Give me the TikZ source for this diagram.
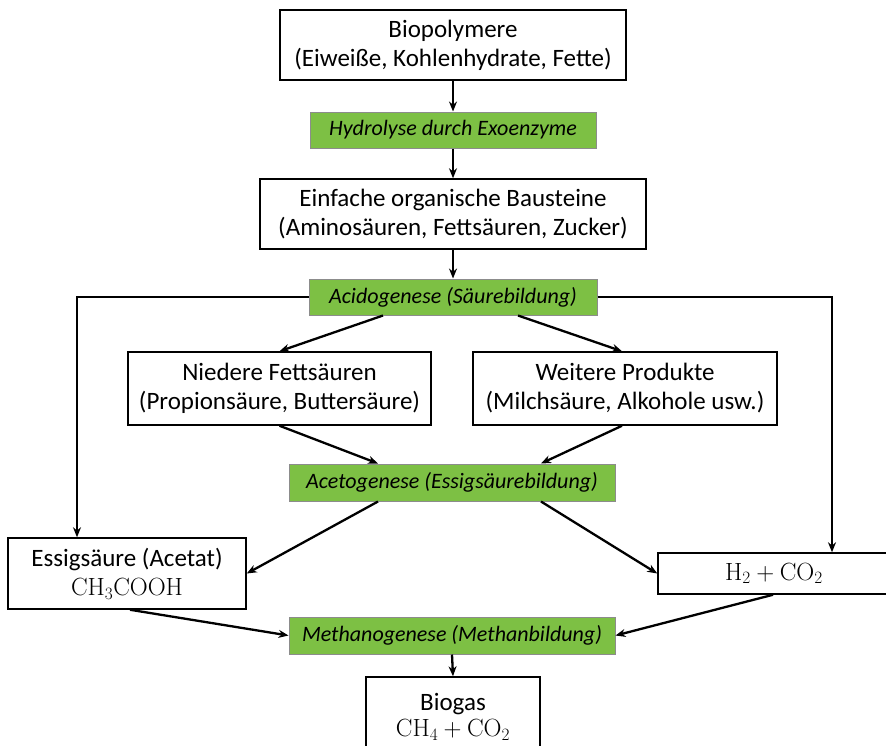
\documentclass[tikz,border=0pt]{standalone}
\usepackage[no-math]{fontspec}
\setmainfont{Carlito}
\usetikzlibrary{arrows.meta}
\definecolor{stepgreen}{RGB}{125,192,68}
\definecolor{stepedge}{RGB}{140,140,140}
\tikzset{
  box/.style={draw=black, line width=1.5pt, fill=white, align=center, inner sep=0pt, font=\fontsize{25}{29}\selectfont},
  gbox/.style={draw=stepedge, line width=1pt, fill=stepgreen, align=center, inner sep=0pt, font=\fontsize{22}{26}\selectfont\itshape},
  conn/.style={line width=2.3pt, -{Stealth[length=10pt,width=8pt]}},
}
\begin{document}
\begin{tikzpicture}[x=1pt,y=-1pt]
\useasboundingbox (0,0) rectangle (886,745);
\begin{scope}
\clip (0,0) rectangle (886,745);
\node[box, minimum width=346pt, minimum height=70pt] (bio) at (453,45) {Biopolymere\\(Eiweiße, Kohlenhydrate, Fette)};
\node[gbox, minimum width=286pt, minimum height=36pt] (hyd) at (453,130) {Hydrolyse durch Exoenzyme};
\node[box, minimum width=386pt, minimum height=70pt] (ein) at (453,214) {Einfache organische Bausteine\\(Aminosäuren, Fettsäuren, Zucker)};
\node[gbox, minimum width=288pt, minimum height=36pt] (aci) at (453,297) {Acidogenese (Säurebildung)};
\node[box, minimum width=303pt, minimum height=73pt] (nie) at (279.5,388.5) {Niedere Fettsäuren\\(Propionsäure, Buttersäure)};
\node[box, minimum width=304pt, minimum height=73pt] (wei) at (625,388.5) {Weitere Produkte\\(Milchsäure, Alkohole usw.)};
\node[gbox, minimum width=326pt, minimum height=37pt] (ace) at (452,482.5) {Acetogenese (Essigsäurebildung)};
\node[box, minimum width=238pt, minimum height=71pt] (ess) at (127,573.5) {Essigsäure (Acetat)\\$\mathrm{CH_3COOH}$};
\node[box, minimum width=232pt, minimum height=41pt] (h2) at (774,573.5) {$\mathrm{H_2+CO_2}$};
\node[gbox, minimum width=326pt, minimum height=37pt] (met) at (452,635.5) {Methanogenese (Methanbildung)};
\node[box, minimum width=174pt, minimum height=80pt] (gas) at (453,717) {Biogas\\[-3pt]$\mathrm{CH_4+CO_2}$};

\coordinate (L) at (77,297);
\coordinate (R) at (832,297);

\draw[conn] (bio.south) -- (hyd.north);
\draw[conn] (hyd.south) -- (ein.north);
\draw[conn] (ein.south) -- (aci.north);
\draw[conn] ([xshift=-70pt]aci.south) -- (nie.north);
\draw[conn] ([xshift=65pt]aci.south) -- ([xshift=-3pt]wei.north);
\draw[conn] (nie.south) -- ([xshift=-74pt]ace.north);
\draw[conn] ([xshift=-3pt]wei.south) -- ([xshift=89pt]ace.north);
\draw[conn] ([xshift=-74pt]ace.south) -- (ess.east);
\draw[conn] ([xshift=89pt]ace.south) -- (h2.west);
\draw[conn] ([xshift=3pt]ess.south) -- (met.west);
\draw[conn] ([xshift=-1pt]h2.south) -- (met.east);
\draw[conn] (met.south) -- (gas.north);
\draw[conn, line width=1.9pt] (aci.west) -- (L) -- (L |- ess.north);
\draw[conn, line width=1.9pt] (aci.east) -- (R) -- (R |- h2.north);
\end{scope}
\end{tikzpicture}
\end{document}
